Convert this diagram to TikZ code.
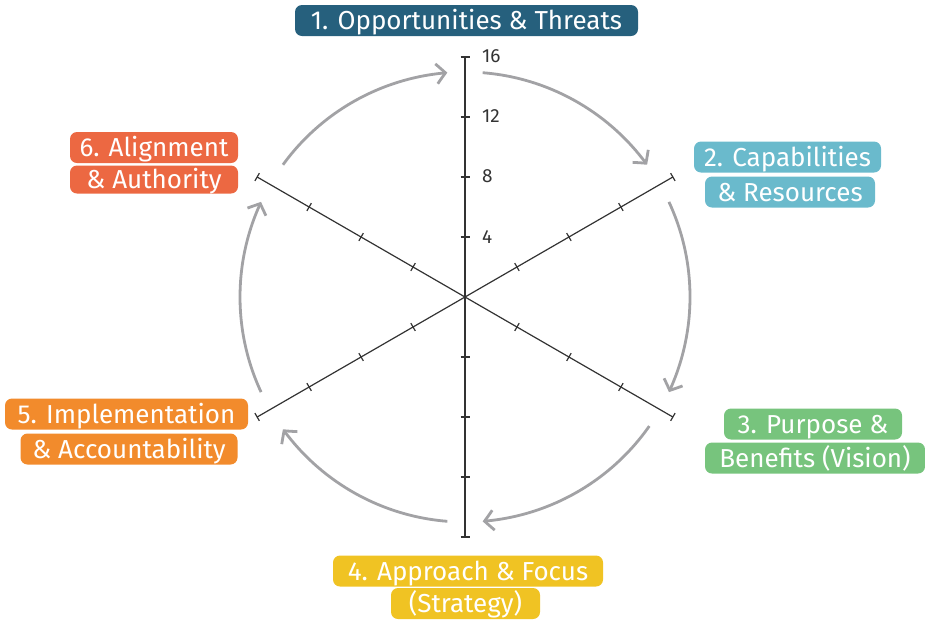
\documentclass[tikz,border=0pt]{standalone}
\usepackage{fontspec}
\setmainfont{Fira Sans}
\usetikzlibrary{arrows.meta,bending}
\definecolor{cA}{HTML}{26607D}
\definecolor{cB}{HTML}{6ABACC}
\definecolor{cC}{HTML}{77C47D}
\definecolor{cD}{HTML}{F0C323}
\definecolor{cE}{HTML}{F28B2C}
\definecolor{cF}{HTML}{EC6842}
\definecolor{arcc}{HTML}{A2A2A5}
\definecolor{axc}{HTML}{333333}
\begin{document}
\begin{tikzpicture}[x=1pt,y=-1pt,
  lab/.style={rounded corners=7pt, inner sep=0pt, text=white, font=\fontsize{26}{26}\selectfont, minimum height=31pt, text depth=1pt, text height=19pt},
  ax/.style={draw=axc, line width=1.2pt},
  num/.style={text=axc, font=\fontsize{19}{19}\selectfont, anchor=west, inner sep=0pt},
  cyc/.style={draw=arcc, line width=2.8pt, -{Straight Barb[length=9pt,width=20pt,line width=2.8pt,bend]}}]
\useasboundingbox (0,0) rectangle (925,619);
\begin{scope}[shift={(465,297)}]
  \foreach \a in {90,30,150}{
    \begin{scope}[rotate=\a]
      \draw[ax] (-240,0) -- (240,0);
      \foreach \r in {-240,-180,-120,-60,60,120,180,240}{
        \draw[ax] (\r,-4.5) -- (\r,4.5);
      }
    \end{scope}
  }
  \draw[cyc] (-144:225) arc[start angle=-144, end angle=-94.5, radius=225];
  \draw[cyc] (-85.5:225) arc[start angle=-85.5, end angle=-36, radius=225];
  \draw[cyc] (-25:225) arc[start angle=-25, end angle=25, radius=225];
  \draw[cyc] (35:225) arc[start angle=35, end angle=85.5, radius=225];
  \draw[cyc] (94.5:225) arc[start angle=94.5, end angle=144, radius=225];
  \draw[cyc] (-205:225) arc[start angle=-205, end angle=-155, radius=225];
\end{scope}
\node[num] (n16) at (482,56) {16};
\node[num] (n12) at (482,116) {12};
\node[num] (n8) at (482,176) {8};
\node[num] (n4) at (482,237) {4};
\node[lab, fill=cA, minimum width=343pt] (l1) at (466.5,20.5) {1. Opportunities \& Threats};
\node[lab, fill=cB, minimum width=187pt] (l2a) at (787.5,157) {2. Capabilities};
\node[lab, fill=cB, minimum width=170pt] (l2b) at (790,192) {\& Resources};
\node[lab, fill=cC, minimum width=178pt] (l3a) at (813,424) {3. Purpose \&};
\node[lab, fill=cC, minimum width=220pt] (l3b) at (815,458) {Benefits (Vision)};
\node[lab, fill=cD, minimum width=270pt] (l4a) at (468,571) {4. Approach \& Focus};
\node[lab, fill=cD, minimum width=149pt, minimum height=31pt] (l4b) at (465.5,603.5) {(Strategy)};
\node[lab, fill=cE, minimum width=243pt] (l5a) at (126.5,414) {5. Implementation};
\node[lab, fill=cE, minimum width=217pt] (l5b) at (129,449) {\& Accountability};
\node[lab, fill=cF, minimum width=168pt] (l6a) at (154,147.5) {6. Alignment};
\node[lab, fill=cF, minimum width=168pt, minimum height=28pt] (l6b) at (154,179.5) {\& Authority};
\end{tikzpicture}
\end{document}
